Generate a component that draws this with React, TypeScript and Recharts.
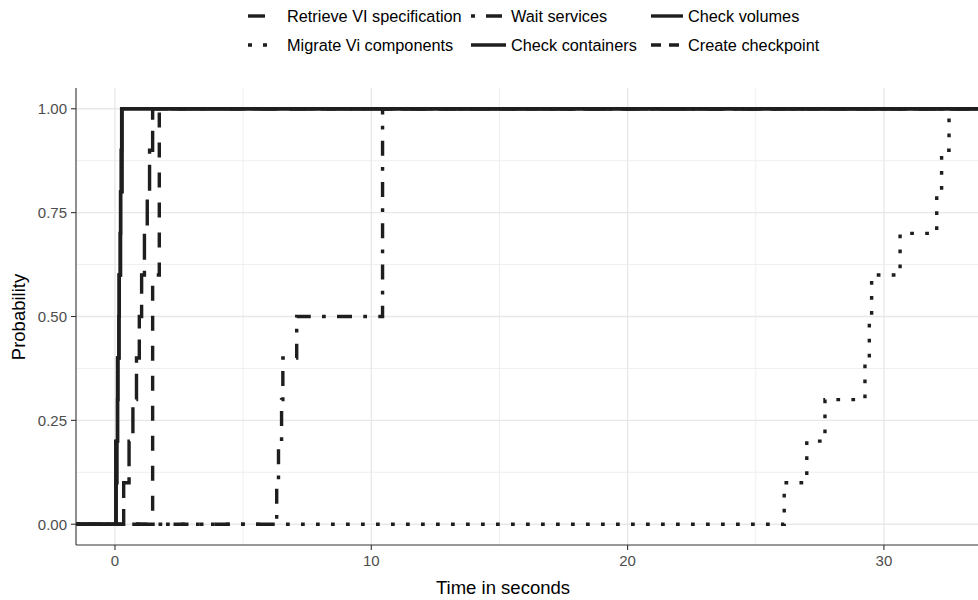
import React from 'react';
import { LineChart, Line, XAxis, YAxis, CartesianGrid } from 'recharts';

// ---- data ----
const X_DOMAIN: [number, number] = [-1.52, 33.67];
const Y_DOMAIN: [number, number] = [-0.05, 1.05];
const xTicks = [0, 10, 20, 30];
const xMinorTicks = [5, 15, 25];
const yTicks = [0, 0.25, 0.5, 0.75, 1];
const yMinorTicks = [0.125, 0.375, 0.625, 0.875];

const seriesNames = [
  'Retrieve VI specification',
  'Migrate Vi components',
  'Wait services',
  'Check containers',
  'Check volumes',
  'Create checkpoint',
];

const retrieveTimes = [0.34, 0.55, 0.7, 0.84, 0.95, 1.04, 1.15, 1.26, 1.35, 1.47];
const retrieveProbs = [0.1, 0.2, 0.3, 0.4, 0.5, 0.6, 0.7, 0.8, 0.9, 1.0];

const migrateTimes = [26.11, 26.99, 27.7, 29.26, 29.43, 29.52, 30.63, 32.06, 32.25, 32.54];
const migrateProbs = [0.1, 0.2, 0.3, 0.4, 0.5, 0.6, 0.7, 0.8, 0.9, 1.0];

const waitTimes = [6.31, 6.38, 6.5, 6.55, 7.09, 10.44];
const waitProbs = [0.1, 0.2, 0.3, 0.4, 0.5, 1.0];

const containersTimes = [0.03, 0.1, 0.16, 0.22, 0.28];
const containersProbs = [0.2, 0.4, 0.6, 0.8, 1.0];

const volumesTimes = [0.05, 0.08, 0.1, 0.12, 0.15, 0.17, 0.2, 0.22, 0.24, 0.26];
const volumesProbs = [0.1, 0.2, 0.3, 0.4, 0.5, 0.6, 0.7, 0.8, 0.9, 1.0];

const checkpointTimes = [1.47, 1.73];
const checkpointProbs = [0.6, 1.0];

// ECDF step series padded to the panel edges (like stat_ecdf pad = TRUE)
const toSteps = (times: number[], probs: number[]) => [
  { t: X_DOMAIN[0], p: 0 },
  ...times.map((t, i) => ({ t, p: probs[i] })),
  { t: X_DOMAIN[1], p: 1 },
];

const LINE_COLOR = '#1e1e1e';
const LW = 3.4;
const FONT = '"Liberation Sans", Arial, Helvetica, sans-serif';

const series = [
  { name: seriesNames[0], data: toSteps(retrieveTimes, retrieveProbs), dash: '26 11' },
  { name: seriesNames[1], data: toSteps(migrateTimes, migrateProbs), dash: '3.75 11.25' },
  { name: seriesNames[2], data: toSteps(waitTimes, waitProbs), dash: '3.75 11.25 15 11.25' },
  { name: seriesNames[5], data: toSteps(checkpointTimes, checkpointProbs), dash: '15 15' },
  { name: seriesNames[3], data: toSteps(containersTimes, containersProbs), dash: undefined },
  { name: seriesNames[4], data: toSteps(volumesTimes, volumesProbs), dash: undefined },
];

// legend layout (3 columns x 2 rows)
const legendItems = [
  { name: seriesNames[0], col: 0, row: 0, dash: undefined, len: 17 },
  { name: seriesNames[1], col: 0, row: 1, dash: '4 11', len: 20 },
  { name: seriesNames[2], col: 1, row: 0, dash: '4 11 16 11', len: 32 },
  { name: seriesNames[3], col: 1, row: 1, dash: undefined, len: 35 },
  { name: seriesNames[4], col: 2, row: 0, dash: undefined, len: 32 },
  { name: seriesNames[5], col: 2, row: 1, dash: '10 8', len: 30 },
];
const legendKeyX = [248, 471, 651];
const legendTextX = [287, 511, 688];
const legendRowY = [16, 45];

const Legendish = () => (
  <svg width={978} height={62} style={{ position: 'absolute', left: 0, top: 0 }}>
    {legendItems.map((it) => (
      <g key={it.name}>
        <line
          x1={legendKeyX[it.col]}
          x2={legendKeyX[it.col] + it.len}
          y1={legendRowY[it.row]}
          y2={legendRowY[it.row]}
          stroke={LINE_COLOR}
          strokeWidth={LW}
          strokeDasharray={it.dash}
        />
        <text
          x={legendTextX[it.col]}
          y={legendRowY[it.row]}
          dominantBaseline="central"
          fontFamily={FONT}
          fontSize={16.3}
          fill="#000"
        >
          {it.name}
        </text>
      </g>
    ))}
  </svg>
);

export default function App() {
  return (
    <div style={{ position: 'absolute', left: 0, top: 0, width: 978, height: 600, background: '#fff', overflow: 'hidden' }}>
      <LineChart width={978} height={600} margin={{ top: 88, right: 0, bottom: 0, left: 0 }} style={{ fontFamily: FONT }}>
        <CartesianGrid
          stroke="#efefef"
          strokeWidth={1}
          verticalValues={xMinorTicks}
          horizontalValues={yMinorTicks}
        />
        <CartesianGrid
          stroke="#e8e8e8"
          strokeWidth={1.3}
          verticalValues={xTicks}
          horizontalValues={yTicks}
        />
        <XAxis
          type="number"
          dataKey="t"
          domain={X_DOMAIN}
          ticks={xTicks}
          allowDataOverflow
          height={55}
          tickSize={5}
          tickMargin={5}
          axisLine={{ stroke: '#333', strokeWidth: 1.1 }}
          tickLine={{ stroke: '#333', strokeWidth: 1.1 }}
          tick={{ fill: '#4d4d4d', fontSize: 15 }}
          label={() => (
            <text x={503} y={587} textAnchor="middle" dominantBaseline="central" fontFamily={FONT} fontSize={18.5} fill="#000">
              Time in seconds
            </text>
          )}
        />
        <YAxis
          type="number"
          dataKey="p"
          domain={Y_DOMAIN}
          ticks={yTicks}
          allowDataOverflow
          width={76}
          tickSize={5}
          tickMargin={4}
          tickFormatter={(v: number) => v.toFixed(2)}
          axisLine={{ stroke: '#333', strokeWidth: 1.1 }}
          tickLine={{ stroke: '#333', strokeWidth: 1.1 }}
          tick={{ fill: '#4d4d4d', fontSize: 15 }}
          label={() => (
            <text
              x={18}
              y={317}
              transform="rotate(-90 18 317)"
              textAnchor="middle"
              dominantBaseline="central"
              fontFamily={FONT}
              fontSize={18.5}
              fill="#000"
            >
              Probability
            </text>
          )}
        />
        {series.map((s) => (
          <Line
            key={s.name}
            data={s.data}
            dataKey="p"
            name={s.name}
            type="stepAfter"
            stroke={LINE_COLOR}
            strokeWidth={LW}
            strokeDasharray={s.dash}
            strokeLinecap="butt"
            dot={false}
            activeDot={false}
            isAnimationActive={false}
          />
        ))}
      </LineChart>
      <Legendish />
    </div>
  );
}
